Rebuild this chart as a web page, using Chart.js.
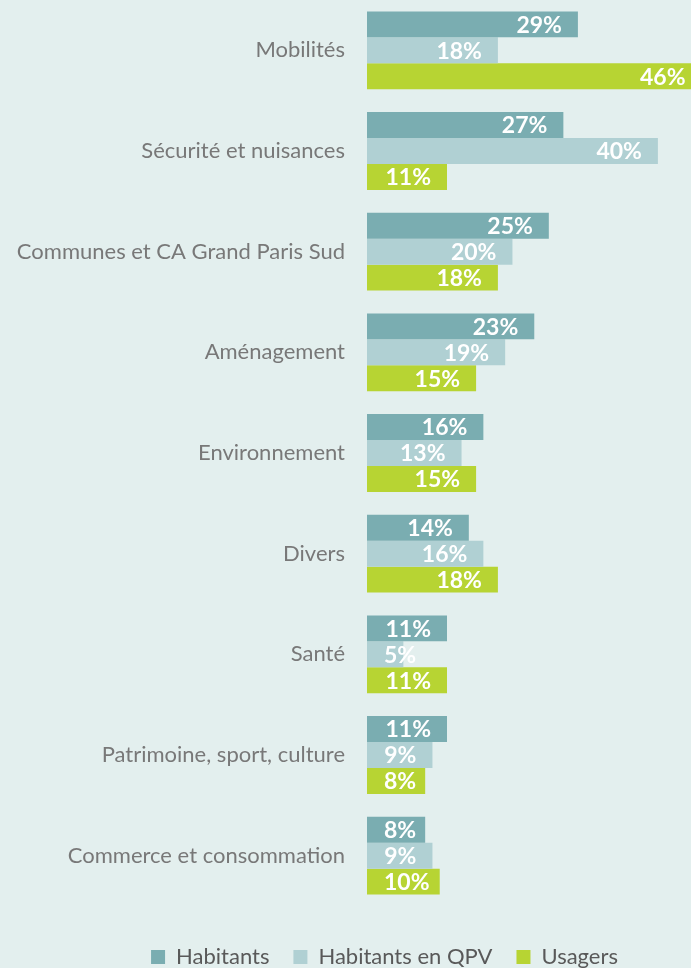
<!DOCTYPE html>
<html>
<head>
<meta charset="utf-8">
<script src="https://cdn.jsdelivr.net/npm/chart.js@4/dist/chart.umd.min.js"></script>
<style>
  html, body { margin: 0; padding: 0; background: #e3efee; }
  #wrap { width: 691px; height: 968px; position: relative; }
</style>
</head>
<body>
<div id="wrap"><canvas id="myChart"></canvas></div>
<script>
// données
const categories = ['Mobilités', 'Sécurité et nuisances', 'Communes et CA Grand Paris Sud', 'Aménagement',
  'Environnement', 'Divers', 'Santé', 'Patrimoine, sport, culture', 'Commerce et consommation'];
const habitants = [29, 27, 25, 23, 16, 14, 11, 11, 8];
const habitantsQpv = [18, 40, 20, 19, 13, 16, 5, 9, 9];
const usagers = [46, 11, 18, 15, 15, 18, 11, 8, 10];
const seriesNames = ['Habitants', 'Habitants en QPV', 'Usagers'];
const seriesColors = ['#7aadb1', '#b0d0d3', '#b7d433'];

const FONT = 'Lato, "Open Sans", sans-serif';

/***** étiquettes dans les barres *****/
const barLabels = {
  id: 'barLabels',
  afterDatasetsDraw(chart) {
    const ctx = chart.ctx;
    ctx.save();
    ctx.font = 'bold 23px ' + FONT;
    ctx.fillStyle = '#ffffff';
    ctx.textAlign = 'right';
    ctx.textBaseline = 'middle';
    chart.data.datasets.forEach((ds, i) => {
      chart.getDatasetMeta(i).data.forEach((bar, j) => {
        const txt = ds.data[j] + '%';
        const w = ctx.measureText(txt).width;
        const x = Math.max(bar.x - 16, bar.base + 17 + w);
        ctx.fillText(txt, x, bar.y + 1);
      });
    });
    ctx.restore();
  }
};

// légende un peu décalée à droite comme sur l'original
const shiftLegend = {
  id: 'shiftLegend',
  afterLayout(chart) {
    chart.legend.left += 39;
    chart.legend.right += 39;
  }
};

const ctx = document.getElementById('myChart');
const myChart = new Chart(ctx, {
  type: 'bar',
  data: {
    labels: categories,
    datasets: [
      { label: seriesNames[0], data: habitants, backgroundColor: seriesColors[0] },
      { label: seriesNames[1], data: habitantsQpv, backgroundColor: seriesColors[1] },
      { label: seriesNames[2], data: usagers, backgroundColor: seriesColors[2] }
    ]
  },
  options: {
    indexAxis: 'y',
    responsive: true,
    maintainAspectRatio: false,
    animation: false,
    layout: { padding: { top: 0, right: 0, bottom: -10, left: 0 } },
    datasets: {
      bar: { barPercentage: 1.0, categoryPercentage: 0.774, borderWidth: 0 }
    },
    scales: {
      x: {
        min: 0,
        max: 44.55,
        grid: { display: false, drawTicks: false },
        border: { display: false },
        ticks: { display: false },
        afterFit(scale) {
          scale.height = 16;
          scale.paddingLeft = 0; scale.paddingRight = 0;
        }
      },
      y: {
        grid: { display: false, drawTicks: false },
        border: { display: false },
        ticks: {
          color: '#787878',
          font: { family: FONT, size: 22 },
          padding: 22
        },
        afterFit(scale) {
          scale.width = 367;
          scale.paddingTop = 0; scale.paddingBottom = 0;
        }
      }
    },
    plugins: {
      tooltip: { enabled: false },
      legend: {
        position: 'bottom',
        labels: {
          color: '#595959',
          font: { family: FONT, size: 22 },
          boxWidth: 14,
          boxHeight: 14,
          padding: 24
        }
      }
    }
  },
  plugins: [barLabels, shiftLegend]
});
</script>
</body>
</html>
